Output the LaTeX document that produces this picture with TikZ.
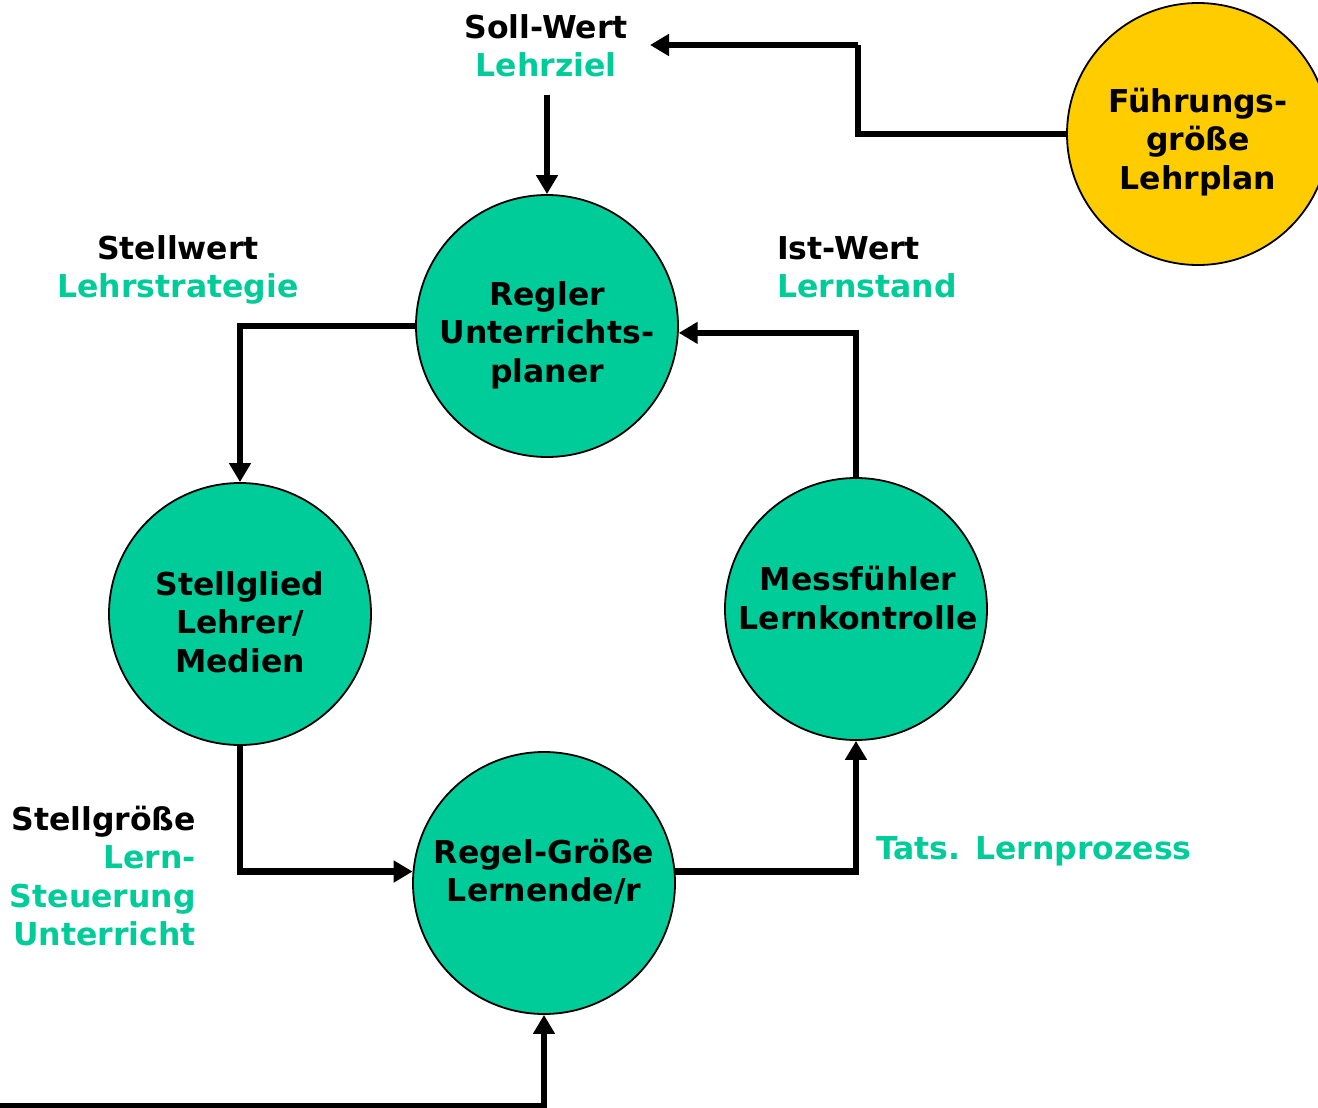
\documentclass[tikz,border=0pt]{standalone}
\usepackage{fontspec}
\setmainfont{DejaVu Sans}
\usetikzlibrary{arrows.meta}
\definecolor{tgreen}{RGB}{0,204,153}
\definecolor{tyellow}{RGB}{255,204,0}
\tikzset{
  circ/.style={circle, draw=black, line width=1.8pt, fill=tgreen, minimum size=262pt, inner sep=0pt},
  txt/.style={font=\fontsize{31.5}{38.5}\selectfont\bfseries, align=center, inner sep=0pt},
  lbl/.style={font=\fontsize{31.5}{38.5}\selectfont\bfseries, inner sep=0pt},
  arr/.style={line width=6.3pt, -{Triangle[length=19pt,width=21pt]}},
  ln/.style={line width=6.3pt}
}
\begin{document}
\begin{tikzpicture}[x=1pt,y=-1pt]
\useasboundingbox (0,0) rectangle (1318,1108);
\clip (0,0) rectangle (1318,1108);
% circles
\node[circ] (regler) at (547,326) {};
\node[circ] (stell) at (240,614) {};
\node[circ] (mess) at (856,609) {};
\node[circ] (regel) at (544,883) {};
\node[circ, fill=tyellow] (fuehr) at (1198,134) {};
% circle texts
\node[txt] (reglerT) at (547,335) {Regler\\Unterrichts-\\planer};
\node[txt] (stellT) at (240,622) {Stellglied\\Lehrer/\\Medien};
\node[txt] (messT) at (858,598) {Messfühler\\Lernkontrolle};
\node[txt] (regelT) at (544,872) {Regel-Größe\\Lernende/r};
\node[txt] (fuehrT) at (1198,142) {Führungs-\\größe\\Lehrplan};
% labels
\node[txt] (soll) at (546,46) {Soll-Wert\\\textcolor{tgreen}{Lehrziel}};
\node[txt] (stellwert) at (178,270) {Stellwert\\\textcolor{tgreen}{Lehrstrategie}};
\node[txt, align=left, anchor=west] (ist) at (777,267) {Ist-Wert\\\textcolor{tgreen}{Lernstand}};
\node[txt, align=right, anchor=east] (stellgr) at (196,876) {Stellgröße\\\textcolor{tgreen}{Lern-}\\\textcolor{tgreen}{Steuerung}\\\textcolor{tgreen}{Unterricht}};
\node[lbl, text=tgreen, anchor=west] (tats) at (876,851) {Tats. Lernprozess};
% free ends
\coordinate (sollIn) at (650,45);
\coordinate (knee) at (858,45);
\coordinate (sollOut) at (547,95);
\coordinate (botStart) at (-5,1106);
% connectors
\draw[ln] (fuehr.west) -| (knee);
\draw[arr] (knee) -- (sollIn);
\draw[arr] (sollOut) -- (regler.north);
\draw[arr] (regler.west) -| (stell.north);
\draw[arr] (stell.south) |- (regel.175);
\draw[arr] (regel.5) -| (mess.south);
\draw[arr] (mess.north) |- (regler.-3.5);
\draw[arr] (botStart) -| (regel.south);
\end{tikzpicture}
\end{document}
